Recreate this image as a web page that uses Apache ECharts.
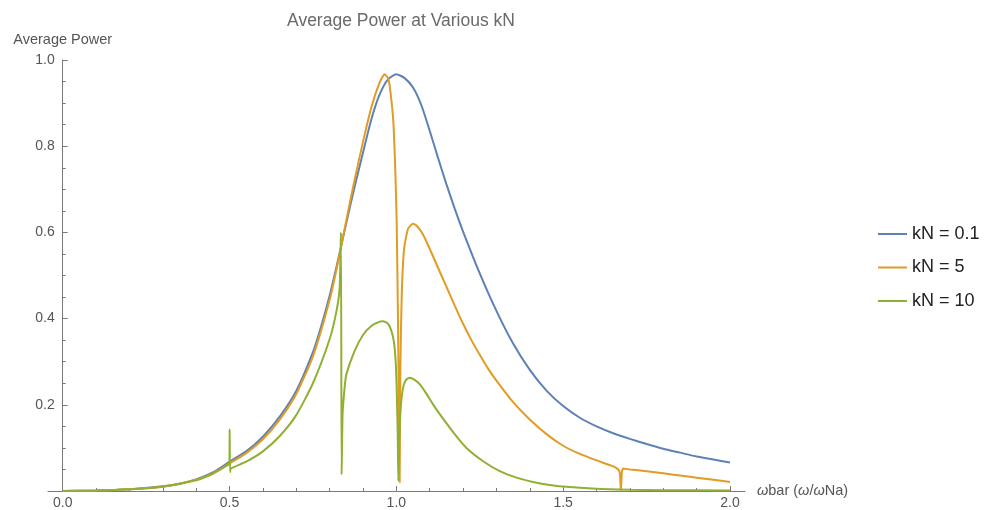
<!DOCTYPE html>
<html>
<head>
<meta charset="utf-8">
<script src="https://cdn.jsdelivr.net/npm/echarts@6/dist/echarts.min.js"></script>
<style>
  html, body { margin: 0; padding: 0; background: #fff; }
  #chart { width: 988px; height: 510px; }
</style>
</head>
<body>
<div id="chart"></div>
<script>
// Average power versus frequency ratio for three coupling stiffness values
const kn01Omega = [0, 0.1, 0.2, 0.3, 0.35, 0.4, 0.45, 0.5, 0.55, 0.6, 0.65, 0.7, 0.75, 0.775, 0.8, 0.825, 0.85, 0.875, 0.9, 0.925, 0.95, 0.975, 1.0, 1.025, 1.05, 1.075, 1.1, 1.125, 1.15, 1.175, 1.2, 1.25, 1.3, 1.35, 1.4, 1.45, 1.5, 1.55, 1.6, 1.65, 1.7, 1.75, 1.8, 1.85, 1.9, 1.95, 2.0];
const kn01Power = [0, 0.001, 0.004, 0.011, 0.017, 0.027, 0.043, 0.068, 0.092, 0.126, 0.172, 0.232, 0.322, 0.383, 0.453, 0.535, 0.622, 0.706, 0.785, 0.862, 0.920, 0.955, 0.967, 0.958, 0.936, 0.895, 0.836, 0.773, 0.712, 0.655, 0.602, 0.505, 0.418, 0.342, 0.281, 0.233, 0.197, 0.170, 0.150, 0.134, 0.121, 0.109, 0.098, 0.089, 0.080, 0.073, 0.066];

const kn5Omega = [0, 0.1, 0.2, 0.3, 0.4, 0.45, 0.5, 0.55, 0.6, 0.65, 0.7, 0.75, 0.8, 0.825, 0.85, 0.875, 0.9, 0.925, 0.95, 0.965, 0.975, 0.981, 0.991, 0.997, 1.001, 1.005, 1.008, 1.010, 1.012, 1.016, 1.023, 1.035, 1.05, 1.065, 1.08, 1.1, 1.125, 1.15, 1.175, 1.2, 1.225, 1.25, 1.275, 1.3, 1.35, 1.4, 1.45, 1.5, 1.55, 1.6, 1.65, 1.665, 1.670, 1.673, 1.676, 1.68, 1.7, 1.75, 1.8, 1.85, 1.9, 1.95, 2.0];
const kn5Power = [0, 0.001, 0.004, 0.010, 0.026, 0.041, 0.064, 0.088, 0.120, 0.165, 0.225, 0.312, 0.443, 0.530, 0.628, 0.722, 0.810, 0.890, 0.948, 0.967, 0.958, 0.935, 0.857, 0.741, 0.626, 0.394, 0.162, 0.02, 0.28, 0.45, 0.56, 0.608, 0.620, 0.612, 0.595, 0.562, 0.518, 0.474, 0.430, 0.388, 0.350, 0.316, 0.284, 0.256, 0.206, 0.166, 0.132, 0.105, 0.086, 0.071, 0.057, 0.050, 0.041, 0.0, 0.045, 0.052, 0.050, 0.046, 0.041, 0.036, 0.031, 0.026, 0.021];

const kn10Omega = [0, 0.1, 0.2, 0.3, 0.4, 0.45, 0.49, 0.4995, 0.5005, 0.5015, 0.504, 0.55, 0.6, 0.65, 0.7, 0.75, 0.8, 0.82, 0.83, 0.834, 0.836, 0.839, 0.845, 0.85, 0.875, 0.9, 0.925, 0.95, 0.96, 0.975, 0.985, 0.993, 0.998, 1.001, 1.004, 1.006, 1.009, 1.012, 1.019, 1.028, 1.04, 1.055, 1.07, 1.09, 1.11, 1.135, 1.16, 1.185, 1.21, 1.26, 1.31, 1.36, 1.41, 1.46, 1.52, 1.6, 1.7, 1.8, 2.0];
const kn10Power = [0, 0.001, 0.004, 0.010, 0.025, 0.040, 0.058, 0.064, 0.143, 0.044, 0.052, 0.068, 0.092, 0.127, 0.176, 0.250, 0.352, 0.415, 0.470, 0.600, 0.038, 0.180, 0.240, 0.270, 0.325, 0.362, 0.383, 0.393, 0.394, 0.388, 0.372, 0.345, 0.300, 0.240, 0.140, 0.023, 0.120, 0.180, 0.235, 0.257, 0.263, 0.258, 0.248, 0.226, 0.201, 0.173, 0.147, 0.122, 0.100, 0.069, 0.046, 0.031, 0.021, 0.014, 0.009, 0.005, 0.003, 0.002, 0.001];

const seriesNames = ['kN = 0.1', 'kN = 5', 'kN = 10'];
const seriesColors = ['#5E81B5', '#E19C24', '#8FB032'];

const xMajorTicks = [0, 0.5, 1.0, 1.5, 2.0];
const xMinorTicks = [0.1, 0.2, 0.3, 0.4, 0.6, 0.7, 0.8, 0.9, 1.1, 1.2, 1.3, 1.4, 1.6, 1.7, 1.8, 1.9];

function zip(xs, ys) { return xs.map((x, i) => [x, ys[i]]); }

const axisColor = '#7a7a7a';
const labelColor = '#555';
const fontFamily = '"Liberation Sans", Arial, sans-serif';

const chart = echarts.init(document.getElementById('chart'), null, { renderer: 'canvas' });
chart.setOption({
  animation: false,
  backgroundColor: '#fff',
  textStyle: { fontFamily: fontFamily },
  title: {
    text: 'Average Power at Various kN',
    left: 396,
    textAlign: 'center',
    top: 7,
    textStyle: { fontSize: 17.5, fontWeight: 'normal', color: '#6a6a6a', fontFamily: fontFamily }
  },
  legend: {
    orient: 'vertical',
    left: 873,
    top: 220,
    itemWidth: 29,
    itemHeight: 2,
    itemGap: 15.5,
    icon: 'rect',
    data: seriesNames,
    textStyle: { fontSize: 18, color: '#222', lineHeight: 18, fontFamily: fontFamily }
  },
  grid: { left: 48, right: 243, top: 60, bottom: 18.4, containLabel: false },
  xAxis: [
    {
      type: 'value',
      min: -0.044,
      max: 2.045,
      name: '{i|ω}bar ({i|ω}/{i|ω}Na)',
      nameLocation: 'end',
      nameGap: 12,
      nameTextStyle: {
        color: labelColor, fontSize: 14.5, fontFamily: fontFamily,
        rich: { i: { fontStyle: 'italic', color: labelColor, fontSize: 14.5, fontFamily: fontFamily } }
      },
      axisLine: { show: true, lineStyle: { color: axisColor, width: 1 } },
      axisTick: { show: true, inside: true, length: 5, customValues: xMajorTicks, lineStyle: { color: axisColor } },
      axisLabel: { show: true, customValues: xMajorTicks, margin: 5, color: labelColor, fontSize: 14,
                   formatter: v => v.toFixed(1) },
      splitLine: { show: false }
    },
    {
      type: 'value',
      min: -0.044,
      max: 2.045,
      position: 'bottom',
      axisLine: { show: false },
      axisTick: { show: true, inside: true, length: 3, customValues: xMinorTicks, lineStyle: { color: axisColor } },
      axisLabel: { show: false },
      splitLine: { show: false }
    }
  ],
  yAxis: {
    type: 'value',
    min: 0,
    max: 1,
    interval: 0.2,
    offset: -14.7,
    name: 'Average Power',
    nameLocation: 'end',
    nameGap: 13,
    nameTextStyle: { color: labelColor, fontSize: 14.5, fontFamily: fontFamily },
    axisLine: { show: true, onZero: false, lineStyle: { color: axisColor, width: 1 } },
    axisTick: { show: true, inside: true, length: 5, lineStyle: { color: axisColor } },
    minorTick: { show: true, splitNumber: 4, length: 3, lineStyle: { color: axisColor } },
    axisLabel: { color: labelColor, fontSize: 14, margin: 8,
                 formatter: v => (v === 0 ? '' : v.toFixed(1)) },
    splitLine: { show: false },
    minorSplitLine: { show: false }
  },
  series: [
    [kn01Omega, kn01Power],
    [kn5Omega, kn5Power],
    [kn10Omega, kn10Power]
  ].map((s, i) => ({
    name: seriesNames[i],
    type: 'line',
    xAxisIndex: 0,
    data: zip(s[0], s[1]),
    showSymbol: false,
    symbol: 'none',
    smooth: 0.2,
    clip: false,
    itemStyle: { color: seriesColors[i] },
    lineStyle: { color: seriesColors[i], width: 2 },
    emphasis: { disabled: true }
  }))
});
</script>
</body>
</html>
